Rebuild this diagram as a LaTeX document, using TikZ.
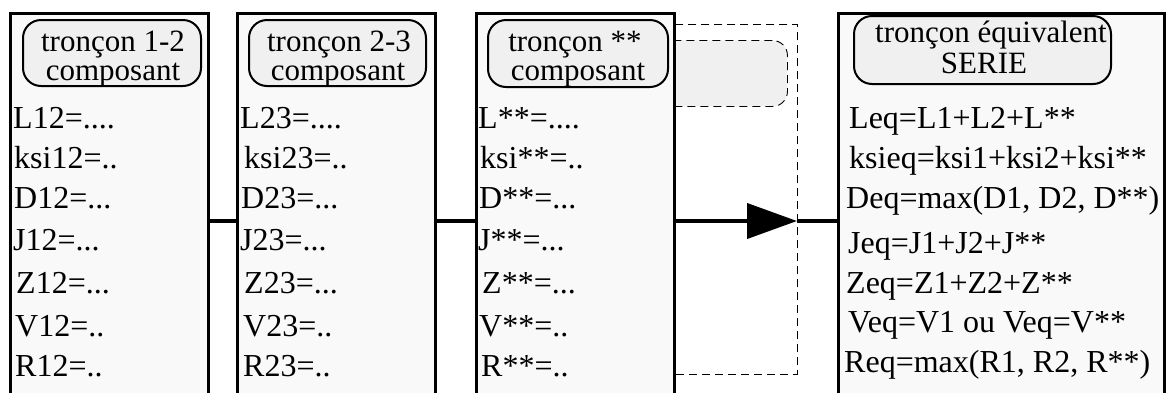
\documentclass[tikz,border=0pt]{standalone}
\usepackage{fontspec}
\setmainfont{Liberation Serif}
\usetikzlibrary{arrows.meta}
\definecolor{boxfill}{HTML}{F9F9F9}
\definecolor{headfill}{HTML}{F0F0F0}
\begin{document}
\begin{tikzpicture}[x=1pt,y=-1pt,
  panel/.style={draw=black, line width=2.5pt, fill=boxfill, anchor=north west, inner sep=0pt},
  head/.style={draw=black, line width=2pt, fill=headfill, rounded corners=18pt, anchor=north west, inner sep=0pt},
  ghost/.style={draw=black, line width=0.9pt, dash pattern=on 8pt off 5pt},
  htext/.style={anchor=base, inner sep=0pt, font=\fontsize{31}{31}\selectfont},
  btext/.style={anchor=base west, inner sep=0pt, font=\fontsize{32}{36}\selectfont},
  conn/.style={draw=black, line width=4pt}]
\useasboundingbox (0,0) rectangle (1166,392);
\clip (0,0) rectangle (1166,392);
\fill[white] (0,0) rectangle (1166,392);
% dashed ghost elements
\node[ghost, fill=headfill, rounded corners=15pt, minimum width=187pt, minimum height=66pt, anchor=north west, inner sep=0pt] (gh) at (600,40) {};
\node[ghost, minimum width=147pt, minimum height=350pt, anchor=north west, inner sep=0pt] (gb) at (650,24) {};
% panels
\node[panel, minimum width=198pt, minimum height=400pt] (b1) at (9,12) {};
\node[panel, minimum width=198pt, minimum height=400pt] (b2) at (236,12) {};
\node[panel, minimum width=198pt, minimum height=400pt] (b3) at (475,12) {};
\node[panel, minimum width=326pt, minimum height=400pt] (b4) at (837,12) {};
% headers
\node[head, minimum width=178pt, minimum height=66pt] (h1) at (22,19) {};
\node[head, minimum width=177pt, minimum height=66pt] (h2) at (248,19) {};
\node[head, minimum width=180pt, minimum height=67pt] (h3) at (487,19) {};
\node[head, minimum width=257pt, minimum height=68pt] (h4) at (853,15) {};
\node[htext] (h1a) at (113,51) {tronçon 1-2};
\node[htext] (h1b) at (113,80) {composant};
\node[htext] (h2a) at (339,51) {tronçon 2-3};
\node[htext] (h2b) at (338,80) {composant};
\node[htext] (h3a) at (575,51) {tronçon **};
\node[htext] (h3b) at (578,80) {composant};
\node[htext] (h4a) at (991,42) {tronçon équivalent};
\node[htext] (h4b) at (984,73) {SERIE};
% body texts, panel 1
\node[btext] (t11) at (13,128) {L12=....};
\node[btext] (t12) at (14,168) {ksi12=..};
\node[btext] (t13) at (14,208) {D12=...};
\node[btext] (t14) at (13,250) {J12=...};
\node[btext] (t15) at (16,293) {Z12=...};
\node[btext] (t16) at (15,336) {V12=..};
\node[btext] (t17) at (15,376) {R12=..};
% panel 2
\node[btext] (t21) at (240,128) {L23=....};
\node[btext] (t22) at (244,168) {ksi23=..};
\node[btext] (t23) at (241,208) {D23=...};
\node[btext] (t24) at (240,250) {J23=...};
\node[btext] (t25) at (244,293) {Z23=...};
\node[btext] (t26) at (243,336) {V23=..};
\node[btext] (t27) at (243,376) {R23=..};
% panel 3
\node[btext] (t31) at (478,128) {L**=....};
\node[btext] (t32) at (480,168) {ksi**=..};
\node[btext] (t33) at (479,208) {D**=...};
\node[btext] (t34) at (478,250) {J**=...};
\node[btext] (t35) at (482,293) {Z**=...};
\node[btext] (t36) at (479,336) {V**=..};
\node[btext] (t37) at (481,376) {R**=..};
% panel 4
\node[btext] (t41) at (849,128) {Leq=L1+L2+L**};
\node[btext] (t42) at (849,168) {ksieq=ksi1+ksi2+ksi**};
\node[btext] (t43) at (846,208) {Deq=max(D1, D2, D**)};
\node[btext] (t44) at (848,253) {Jeq=J1+J2+J**};
\node[btext] (t45) at (846,293) {Zeq=Z1+Z2+Z**};
\node[btext] (t46) at (848,332) {Veq=V1 ou Veq=V**};
\node[btext] (t47) at (844,372) {Req=max(R1, R2, R**)};
% connectors
\coordinate (m) at (0,221);
\coordinate (tip) at (797,221);
\draw[conn] (b1.east |- m) -- (b2.west |- m);
\draw[conn] (b2.east |- m) -- (b3.west |- m);
\draw[conn, -{Triangle[length=50pt,width=35pt]}] (b3.east |- m) -- (tip);
\draw[conn] (tip) -- (b4.west |- m);
\end{tikzpicture}
\end{document}
